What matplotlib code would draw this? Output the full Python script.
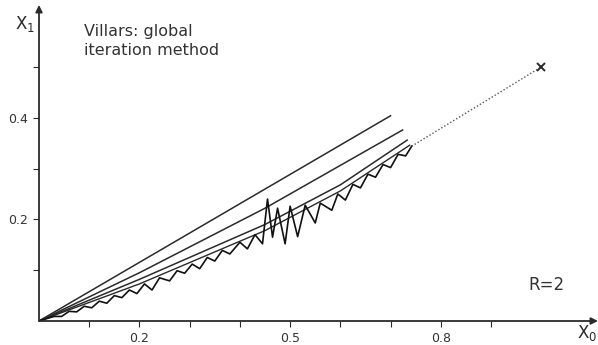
import matplotlib
matplotlib.use("Agg")
from matplotlib import pyplot as plt

# straight / slightly bent iteration lines from the origin
line1_x = [0.0, 0.70]
line1_y = [0.0, 0.404]
line2_x = [0.0, 0.20, 0.45, 0.724]
line2_y = [0.0, 0.095, 0.222, 0.376]
line3_x = [0.0, 0.20, 0.45, 0.60, 0.733]
line3_y = [0.0, 0.082, 0.190, 0.268, 0.356]
line4_x = [0.0, 0.20, 0.45, 0.60, 0.738]
line4_y = [0.0, 0.073, 0.178, 0.256, 0.346]

# zig-zag iteration path
zig_x = [0.0, 0.03, 0.045, 0.06, 0.075, 0.09, 0.105, 0.12, 0.135, 0.15,
         0.165, 0.18, 0.195, 0.21, 0.225, 0.24, 0.26, 0.275, 0.29, 0.305,
         0.32, 0.335, 0.35, 0.365, 0.38, 0.40, 0.415, 0.43, 0.445, 0.455,
         0.465, 0.475, 0.49, 0.50, 0.515, 0.53, 0.55, 0.56, 0.583, 0.595,
         0.61, 0.625, 0.64, 0.655, 0.67, 0.685, 0.70, 0.715, 0.73, 0.742]
zig_y = [0.0, 0.009, 0.009, 0.019, 0.018, 0.029, 0.026, 0.039, 0.035, 0.050,
         0.046, 0.061, 0.054, 0.073, 0.061, 0.085, 0.079, 0.099, 0.094, 0.112,
         0.103, 0.125, 0.118, 0.139, 0.132, 0.155, 0.142, 0.170, 0.152, 0.240,
         0.165, 0.222, 0.152, 0.226, 0.166, 0.228, 0.193, 0.232, 0.218, 0.250,
         0.238, 0.269, 0.262, 0.289, 0.283, 0.308, 0.302, 0.328, 0.325, 0.344]

# dotted continuation to the solution point
dot_x = [0.742, 1.0]
dot_y = [0.344, 0.5]
sol_x = [1.0]
sol_y = [0.5]

xticks_major = [0.2, 0.5, 0.8]
xticks_minor = [0.1, 0.3, 0.4, 0.6, 0.7, 0.9]
yticks_major = [0.2, 0.4]
yticks_minor = [0.1, 0.3, 0.5]

ink = "#2a2a2a"

fig = plt.figure(figsize=(5.98, 3.45), dpi=100)
ax = fig.add_axes([39 / 598, 24 / 345, 559 / 598, 316 / 345])
ax.set_xlim(0, 1.113)
ax.set_ylim(0, 0.622)

for s in ax.spines.values():
    s.set_visible(False)

ax.plot(line1_x, line1_y, color=ink, lw=1.1)
ax.plot(line2_x, line2_y, color=ink, lw=1.1)
ax.plot(line3_x, line3_y, color=ink, lw=1.1)
ax.plot(line4_x, line4_y, color=ink, lw=1.0)
ax.plot(zig_x, zig_y, color="#111111", lw=1.2)
ax.plot(dot_x, dot_y, color="#555555", lw=1.0, linestyle=(0, (1, 1.5)))
ax.plot(sol_x, sol_y, marker="x", color=ink, markersize=6, mew=1.4, linestyle="none")

# axes with arrows
ax.annotate("", xy=(1.113, 0), xytext=(0, 0), xycoords="data",
            arrowprops=dict(arrowstyle="-|>", color=ink, lw=1.3, mutation_scale=10,
                            shrinkA=0, shrinkB=0), annotation_clip=False)
ax.annotate("", xy=(0, 0.622), xytext=(0, 0), xycoords="data",
            arrowprops=dict(arrowstyle="-|>", color=ink, lw=1.3, mutation_scale=10,
                            shrinkA=0, shrinkB=0), annotation_clip=False)

ax.set_xticks(xticks_major)
ax.set_xticklabels(["0.2", "0.5", "0.8"])
ax.set_xticks(xticks_minor, minor=True)
ax.set_yticks(yticks_major)
ax.set_yticklabels(["0.2", "0.4"])
ax.set_yticks(yticks_minor, minor=True)
ax.tick_params(which="both", direction="out", length=4, width=0.8, color=ink,
               labelsize=9, labelcolor="#333333", pad=4)

fig.text(15 / 598, 1 - 24 / 345, r"X$_1$", fontsize=12, color=ink, va="center", ha="left")
fig.text(577 / 598, 1 - 333 / 345, r"X$_0$", fontsize=12, color=ink, va="center", ha="left")

ax.text(0.09, 0.585, "Villars: global\niteration method", fontsize=11.5,
        color="#333333", va="top", ha="left", linespacing=1.35)
ax.text(0.975, 0.071, "R=2", fontsize=12, color="#333333", va="center", ha="left")

fig.savefig("out.png", dpi=100)
